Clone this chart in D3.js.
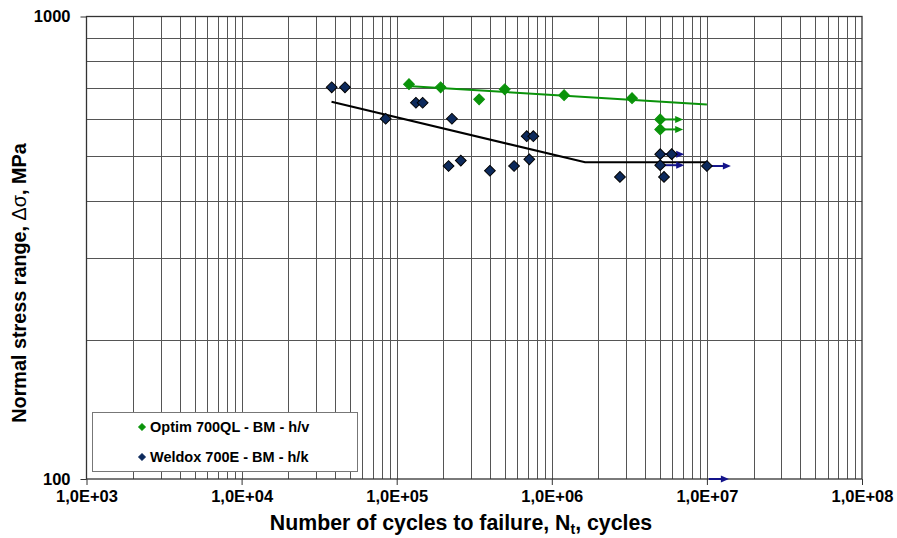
<!DOCTYPE html>
<html>
<head>
<meta charset="utf-8">
<script src="https://cdn.jsdelivr.net/npm/d3@7"></script>
<style>
  body { margin: 0; background: #fff; }
  svg { display: block; font-family: "Liberation Sans", Arial, sans-serif; }
</style>
</head>
<body>
<div id="chart"></div>
<script>
// Optim 700QL - BM - h/v  (cycles, stress range MPa, run-out)
const optimN = [1.2e5, 1.92e5, 3.4e5, 4.97e5, 1.2e6, 3.29e6, 5e6, 5e6];
const optimS = [714, 703, 662, 696, 676, 666, 599, 570];
const optimRunout = [false, false, false, false, false, false, true, true];

// Weldox 700E - BM - h/k
const weldoxN = [3.81e4, 4.64e4, 8.49e4, 1.33e5, 1.47e5, 2.27e5, 2.16e5, 2.59e5, 3.99e5,
  5.71e5, 7.16e5, 6.89e5, 7.6e5, 5e6, 5.93e6, 5e6, 1e7, 2.75e6, 5.29e6];
const weldoxS = [703, 703, 601, 651, 651, 601, 475, 488, 464,
  475, 491, 551, 551, 504, 504, 477, 475, 450, 450];
const weldoxRunout = [false, false, false, false, false, false, false, false, false,
  false, false, false, false, true, false, true, true, false, false];

// extra run-out arrow sitting on the 100 MPa axis
const axisRunoutN = [1e7];
const axisRunoutS = [100];

// fitted S-N curves
const optimCurveN = [1.24e5, 1e7];
const optimCurveS = [707, 645];
const weldoxCurveN = [3.8e4, 1.64e6, 1e7];
const weldoxCurveS = [654, 484, 484];

const xTicks = [1e3, 1e4, 1e5, 1e6, 1e7, 1e8];
const xTickLabels = ["1,0E+03", "1,0E+04", "1,0E+05", "1,0E+06", "1,0E+07", "1,0E+08"];
const yTicks = [100, 1000];
const yTickLabels = ["100", "1000"];

const width = 897, height = 538;
const margin = { top: 16.5, right: 35, bottom: 59, left: 86.5 };

const x = d3.scaleLog().domain([1e3, 1e8]).range([margin.left, width - margin.right]);
const y = d3.scaleLog().domain([100, 1000]).range([height - margin.bottom, margin.top]);

const svg = d3.select("#chart").append("svg")
  .attr("width", width)
  .attr("height", height)
  .attr("viewBox", `0 0 ${width} ${height}`);

// grid: every integer multiple in each decade
const xGrid = [];
for (let e = 3; e < 8; e++) for (let m = 2; m <= 9; m++) xGrid.push(m * Math.pow(10, e));
const yGrid = [];
for (let m = 2; m <= 9; m++) yGrid.push(m * 100);

const grid = svg.append("g").attr("stroke", "#555").attr("stroke-width", 1).attr("shape-rendering", "crispEdges");
grid.selectAll("line.v").data(xGrid.concat(xTicks.slice(1, -1))).join("line")
  .attr("x1", d => Math.round(x(d)) + 0.5).attr("x2", d => Math.round(x(d)) + 0.5)
  .attr("y1", y(1000)).attr("y2", y(100));
grid.selectAll("line.h").data(yGrid).join("line")
  .attr("y1", d => Math.round(y(d)) + 0.5).attr("y2", d => Math.round(y(d)) + 0.5)
  .attr("x1", x(1e3)).attr("x2", x(1e8));

// plot frame
svg.append("rect")
  .attr("x", x(1e3)).attr("y", y(1000))
  .attr("width", x(1e8) - x(1e3)).attr("height", y(100) - y(1000))
  .attr("fill", "none").attr("stroke", "#333").attr("stroke-width", 1.3);

// axes
svg.append("g")
  .attr("transform", `translate(0,${y(100)})`)
  .call(d3.axisBottom(x).tickValues(xTicks).tickFormat((d, i) => xTickLabels[i]).tickSize(6).tickPadding(5))
  .call(g => g.select(".domain").remove())
  .call(g => g.selectAll("line").attr("stroke", "#333"))
  .call(g => g.selectAll("text").attr("font-size", 16.5).attr("font-weight", "bold")
    .attr("font-family", "Liberation Sans, Arial, sans-serif").attr("fill", "#000"));

svg.append("g")
  .attr("transform", `translate(${x(1e3)},0)`)
  .call(d3.axisLeft(y).tickValues(yTicks).tickFormat((d, i) => yTickLabels[i]).tickSize(6).tickPadding(10))
  .call(g => g.select(".domain").remove())
  .call(g => g.selectAll("line").attr("stroke", "#333"))
  .call(g => g.selectAll("text").attr("font-size", 16.5).attr("font-weight", "bold")
    .attr("font-family", "Liberation Sans, Arial, sans-serif").attr("fill", "#000"));

// axis titles
const xt = svg.append("text")
  .attr("x", 461).attr("y", 530)
  .attr("text-anchor", "middle")
  .attr("font-size", 21.3).attr("font-weight", "bold")
  .text("Number of cycles to failure, N");
xt.append("tspan").attr("font-size", 14).attr("dy", 4).text("t");
xt.append("tspan").attr("dy", -4).text(", cycles");

const yt = svg.append("text")
  .attr("transform", `translate(26,283) rotate(-90)`)
  .attr("text-anchor", "middle")
  .attr("font-size", 19.8).attr("font-weight", "bold")
  .text("Normal stress range, ");
yt.append("tspan").attr("font-weight", "normal").text("Δσ");
yt.append("tspan").text(", MPa");

// curves
const line = d3.line().x(d => x(d[0])).y(d => y(d[1]));
svg.append("path")
  .datum(d3.zip(weldoxCurveN, weldoxCurveS))
  .attr("d", line).attr("fill", "none").attr("stroke", "#000").attr("stroke-width", 2);
svg.append("path")
  .datum(d3.zip(optimCurveN, optimCurveS))
  .attr("d", line).attr("fill", "none").attr("stroke", "#0a930a").attr("stroke-width", 2);

// run-out arrows
function arrows(data, color, len) {
  const g = svg.append("g").attr("stroke", color).attr("fill", color);
  data.forEach(d => {
    const x0 = x(d[0]) + 2, y0 = y(d[1]);
    g.append("line").attr("x1", x0).attr("x2", x0 + len - 6).attr("y1", y0).attr("y2", y0).attr("stroke-width", 2);
    g.append("path").attr("stroke", "none")
      .attr("d", `M${x0 + len},${y0} L${x0 + len - 8},${y0 - 3.5} L${x0 + len - 8},${y0 + 3.5} Z`);
  });
}
const navy = "#13138a";
arrows(d3.zip(optimN, optimS).filter((d, i) => optimRunout[i]), "#0a930a", 21);
arrows(d3.zip(weldoxN, weldoxS).filter((d, i) => weldoxRunout[i]), navy, 22);
arrows(d3.zip(axisRunoutN, axisRunoutS), navy, 20);

// markers
const diamond = d3.symbol().type(d3.symbolSquare).size(58);
svg.append("g").selectAll("path")
  .data(d3.zip(weldoxN, weldoxS)).join("path")
  .attr("d", diamond)
  .attr("transform", d => `translate(${x(d[0])},${y(d[1])}) rotate(45)`)
  .attr("fill", "#0d2a5c").attr("stroke", "#000").attr("stroke-width", 1);
svg.append("g").selectAll("path")
  .data(d3.zip(optimN, optimS)).join("path")
  .attr("d", diamond)
  .attr("transform", d => `translate(${x(d[0])},${y(d[1])}) rotate(45)`)
  .attr("fill", "#0a930a").attr("stroke", "#0a930a").attr("stroke-width", 1);

// legend
const legend = svg.append("g");
legend.append("rect")
  .attr("x", 92.5).attr("y", 412.5).attr("width", 265).attr("height", 59)
  .attr("fill", "#fff").attr("stroke", "#777").attr("stroke-width", 1);
const legendItems = [
  { name: "Optim 700QL - BM - h/v", fill: "#0a930a", stroke: "#0a930a" },
  { name: "Weldox 700E - BM - h/k", fill: "#0d2a5c", stroke: "#0d2a5c" }
];
legendItems.forEach((d, i) => {
  const cy = 427 + i * 30;
  legend.append("path")
    .attr("d", d3.symbol().type(d3.symbolSquare).size(22))
    .attr("transform", `translate(142,${cy}) rotate(45)`)
    .attr("fill", d.fill).attr("stroke", d.stroke);
  legend.append("text")
    .attr("x", 150).attr("y", cy + 5)
    .attr("font-size", 14.5).attr("font-weight", "bold")
    .text(d.name);
});
</script>
</body>
</html>
